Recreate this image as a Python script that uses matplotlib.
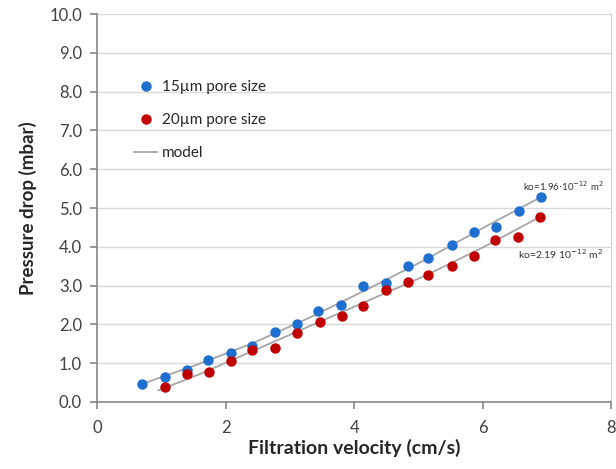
import matplotlib
matplotlib.use("Agg")
import matplotlib.pyplot as plt
from matplotlib.lines import Line2D

plt.rcParams['font.family'] = ['Lato', 'DejaVu Sans']

# measured pressure drop vs filtration velocity
v_15 = [0.69, 1.05, 1.39, 1.72, 2.08, 2.41, 2.77, 3.11, 3.44, 3.79, 4.14, 4.49,
        4.83, 5.15, 5.52, 5.86, 6.21, 6.56, 6.91]
dp_15 = [0.46, 0.64, 0.83, 1.08, 1.27, 1.44, 1.80, 2.00, 2.34, 2.50, 2.99, 3.06,
         3.51, 3.70, 4.04, 4.39, 4.51, 4.91, 5.28]

v_20 = [1.05, 1.39, 1.74, 2.08, 2.41, 2.77, 3.11, 3.46, 3.81, 4.14, 4.49, 4.83,
        5.15, 5.52, 5.86, 6.20, 6.55, 6.90]
dp_20 = [0.39, 0.72, 0.78, 1.06, 1.34, 1.40, 1.79, 2.05, 2.22, 2.48, 2.89, 3.09,
         3.27, 3.51, 3.75, 4.17, 4.25, 4.78]

# model curves
model_v_15 = [0.69, 1.5, 2.4, 3.3, 4.2, 5.1, 6.0, 6.95]
model_dp_15 = [0.46, 0.93, 1.50, 2.17, 2.90, 3.66, 4.48, 5.32]
model_v_20 = [0.95, 1.6, 2.4, 3.3, 4.2, 5.1, 6.0, 6.95]
model_dp_20 = [0.30, 0.72, 1.30, 1.95, 2.60, 3.25, 3.98, 4.82]

k_15 = r'ko=1.96$\cdot$10$^{-12}$ m$^2$'
k_20 = r'ko=2.19 10$^{-12}$ m$^2$'

blue = '#1f6fd0'
red = '#c00000'
model_color = '#a6a6a6'

fig = plt.figure(figsize=(6.16, 4.69), dpi=100)
ax = fig.add_axes([0.158, 0.143, 0.834, 0.827])

ax.plot(model_v_15, model_dp_15, color=model_color, lw=1.3, zorder=2)
ax.plot(model_v_20, model_dp_20, color=model_color, lw=1.3, zorder=2)
ax.plot(v_15, dp_15, 'o', color=blue, ms=7.5, mec='none', zorder=3)
ax.plot(v_20, dp_20, 'o', color=red, ms=7.5, mec='none', zorder=3)

ax.text(7.25, 5.57, k_15, fontsize=7, ha='center', va='center', color='#333333')
ax.text(6.55, 3.82, k_20, fontsize=7.5, ha='left', va='center', color='#333333')

ax.set_xlim(0, 8)
ax.set_ylim(0, 10)
ax.set_xticks([0, 2, 4, 6, 8])
ax.set_yticks(range(0, 11))
ax.set_yticklabels([f'{t:.1f}' for t in range(0, 11)])
ax.grid(axis='y', color='#d9d9d9', lw=1)
ax.set_axisbelow(True)

ax.spines['top'].set_visible(False)
ax.spines['left'].set_color('#868686')
ax.spines['bottom'].set_color('#868686')
ax.spines['right'].set_color('#d0d0d0')
ax.spines['left'].set_linewidth(1.2)
ax.spines['bottom'].set_linewidth(1.2)
ax.tick_params(axis='both', colors='#868686', labelcolor='#404040',
               labelsize=12, length=5, width=1.2, direction='out')
ax.tick_params(axis='y', pad=6)
ax.tick_params(axis='x', pad=8)

ax.set_xlabel('Filtration velocity (cm/s)', fontsize=14, fontweight='bold',
              color='#262626', labelpad=2)
ax.set_ylabel('Pressure drop (mbar)', fontsize=13.5, fontweight='bold',
              color='#262626', labelpad=9)

handles = [
    Line2D([], [], ls='none', marker='o', color=blue, ms=7.5, mec='none'),
    Line2D([], [], ls='none', marker='o', color=red, ms=7.5, mec='none'),
    Line2D([], [], color=model_color, lw=1.3),
]
ax.legend(handles, ['15\u00b5m pore size', '20\u00b5m pore size', 'model'],
          loc='upper left', bbox_to_anchor=(0.045, 0.865), frameon=False,
          fontsize=11, labelspacing=1.25, handlelength=1.5, handletextpad=0.3,
          labelcolor='#262626')

fig.savefig('out.png', dpi=100)
